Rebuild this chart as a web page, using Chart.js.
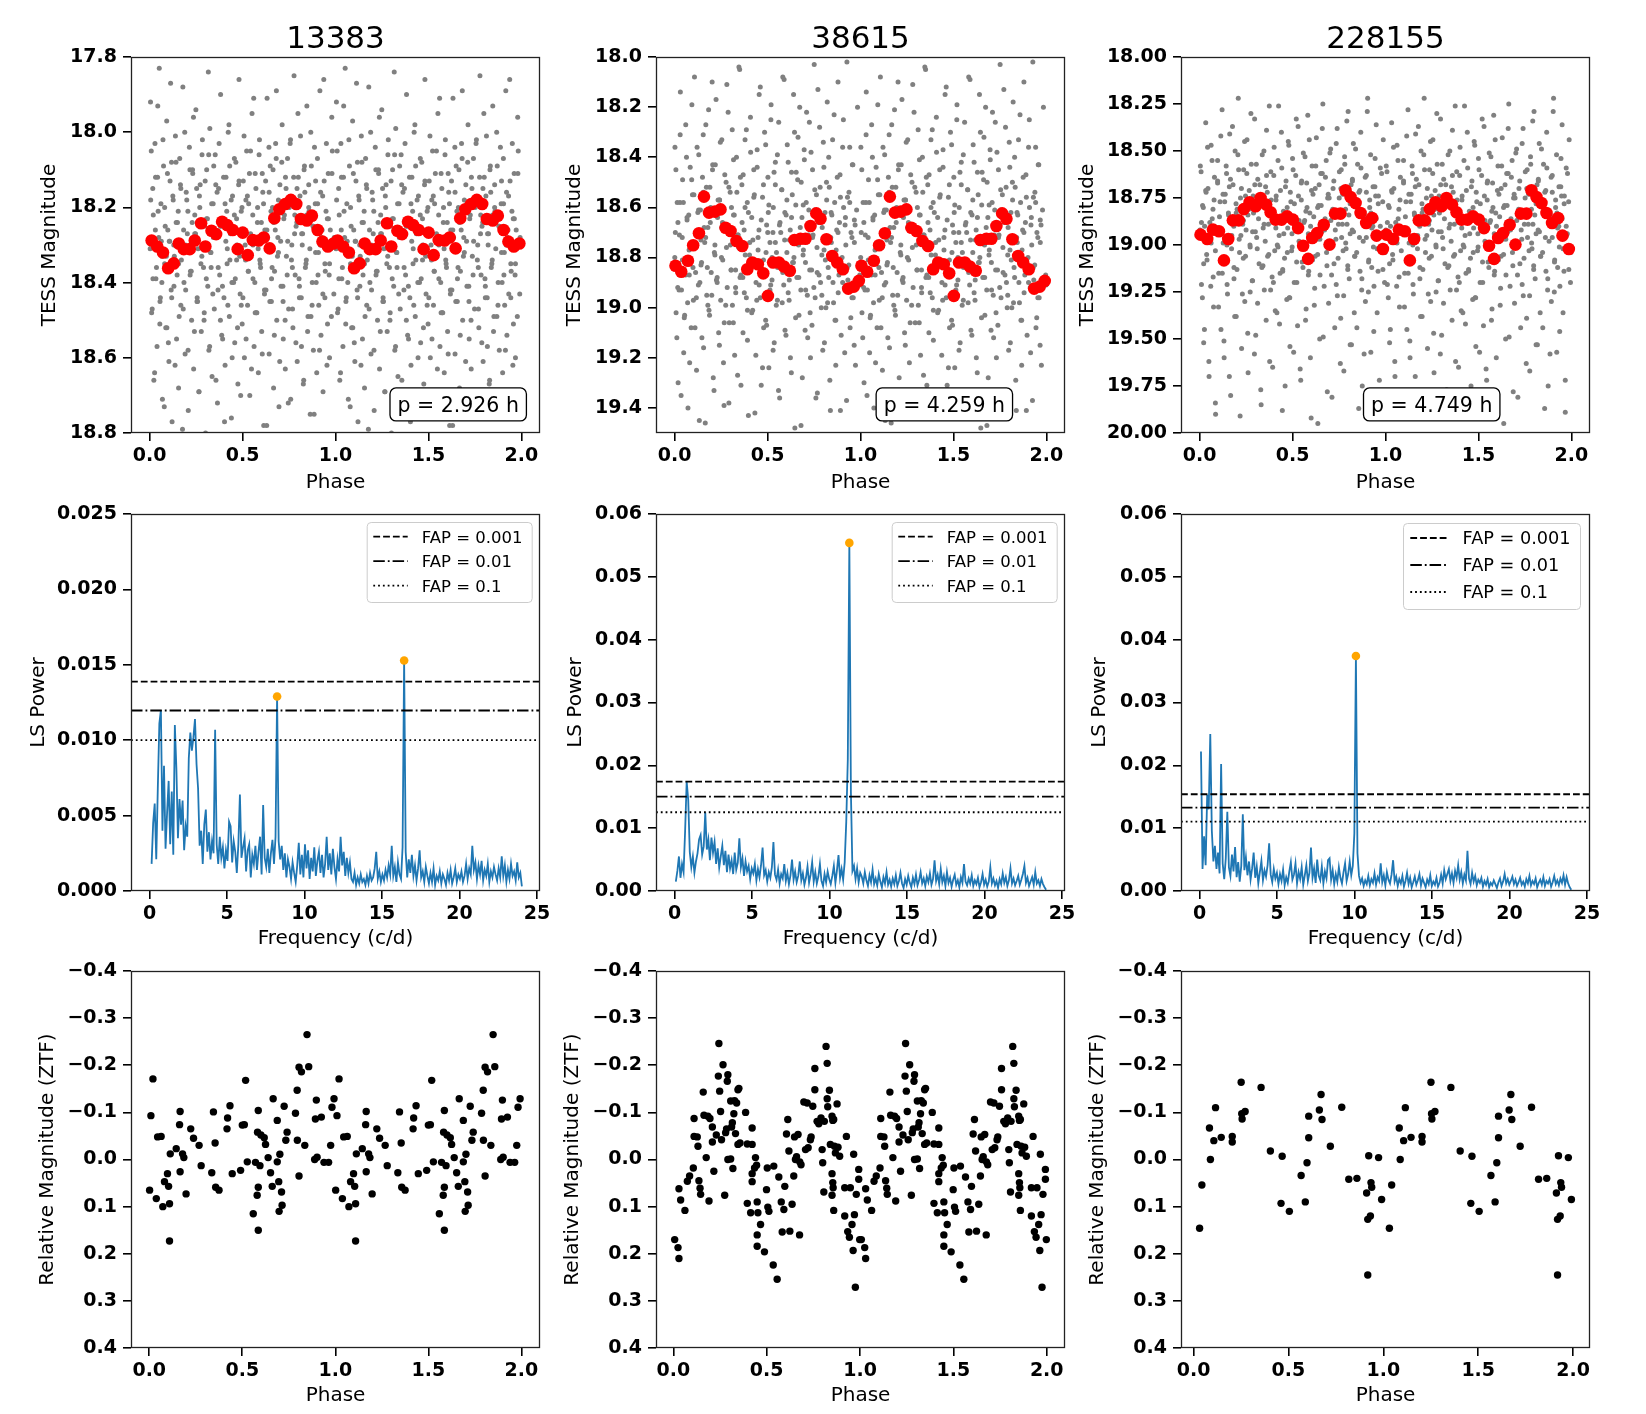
<!DOCTYPE html>
<html>
<head>
<meta charset="utf-8">
<script src="https://cdn.jsdelivr.net/npm/chart.js@4.4.1/dist/chart.umd.min.js"></script>
<style>
  body { margin: 0; background: #fff; }
  #page { position: relative; width: 1646px; height: 1414px; background: #fff; }
  #page canvas { position: absolute; }
</style>
</head>
<body>
<div id="page"></div>
<script>
// ---------------- data ----------------
var objectNames = ['13383', '38615', '228155'];
var periodLabels = ['p = 2.926 h', 'p = 4.259 h', 'p = 4.749 h'];

// TESS light curves, folded (phase 0-1, drawn twice)
var greyPhaseA = [
  0.003,0.009,0.014,0.020,0.027,0.032,0.037,0.044,0.049,0.055,
  0.061,0.066,0.072,0.079,0.084,0.090,0.096,0.101,0.108,0.113,
  0.119,0.125,0.130,0.137,0.142,0.148,0.154,0.159,0.166,0.171,
  0.177,0.183,0.189,0.194,0.200,0.207,0.212,0.217,0.224,0.229,
  0.236,0.241,0.247,0.253,0.258,0.265,0.270,0.276,0.282,0.287,
  0.294,0.299,0.305,0.311,0.316,0.323,0.328,0.334,0.340,0.345,
  0.352,0.357,0.363,0.369,0.374,0.381,0.386,0.392,0.398,0.403,
  0.410,0.415,0.421,0.427,0.432,0.439,0.444,0.450,0.456,0.461,
  0.468,0.473,0.479,0.485,0.490,0.497,0.502,0.508,0.514,0.519,
  0.526,0.531,0.537,0.543,0.548,0.555,0.560,0.566,0.572,0.577,
  0.584,0.589,0.595,0.601,0.606,0.613,0.618,0.624,0.630,0.635,
  0.642,0.647,0.653,0.659,0.664,0.671,0.676,0.682,0.688,0.693,
  0.700,0.705,0.711,0.717,0.722,0.729,0.734,0.740,0.746,0.751,
  0.758,0.763,0.769,0.775,0.780,0.787,0.792,0.798,0.804,0.809,
  0.816,0.821,0.827,0.833,0.838,0.845,0.850,0.856,0.862,0.867,
  0.874,0.879,0.885,0.891,0.896,0.903,0.908,0.914,0.920,0.925,
  0.932,0.937,0.943,0.949,0.954,0.961,0.966,0.972,0.978,0.983,
  0.006,0.018,0.031,0.043,0.056,0.068,0.081,0.093,0.106,0.118,
  0.131,0.143,0.156,0.168,0.181,0.193,0.206,0.218,0.231,0.243,
  0.256,0.268,0.281,0.293,0.306,0.318,0.331,0.343,0.356,0.368,
  0.381,0.393,0.406,0.418,0.431,0.443,0.456,0.468,0.481,0.493,
  0.506,0.518,0.531,0.543,0.556,0.568,0.581,0.593,0.606,0.618,
  0.631,0.643,0.656,0.668,0.681,0.693,0.706,0.718,0.731,0.743,
  0.756,0.768,0.781,0.793,0.806,0.818,0.831,0.843,0.856,0.868,
  0.881,0.893,0.906,0.918,0.931,0.943,0.956,0.968,0.981,0.993,
  0.005,0.011,0.017,0.023,0.029,0.034,0.040,0.046,0.052,0.058,
  0.063,0.069,0.075,0.081,0.087,0.092,0.098,0.104,0.110,0.116,
  0.121,0.127,0.133,0.139,0.145,0.150,0.156,0.162,0.168,0.174,
  0.179,0.185,0.191,0.197,0.203,0.208,0.214,0.220,0.226,0.232,
  0.237,0.243,0.249,0.255,0.261,0.266,0.272,0.278,0.284,0.290,
  0.295,0.301,0.307,0.313,0.319,0.324,0.330,0.336,0.342,0.348,
  0.353,0.359,0.365,0.371,0.377,0.382,0.388,0.394,0.400,0.406,
  0.411,0.417,0.423,0.429,0.435,0.440,0.446,0.452,0.458,0.464,
  0.469,0.475,0.481,0.487,0.493,0.498,0.504,0.510,0.516,0.522,
  0.527,0.533,0.539,0.545,0.551,0.556,0.562,0.568,0.574,0.580,
  0.585,0.591,0.597,0.603,0.609,0.614,0.620,0.626,0.632,0.638,
  0.643,0.649,0.655,0.661,0.667,0.672,0.678,0.684,0.690,0.696,
  0.701,0.707,0.713,0.719,0.725,0.730,0.736,0.742,0.748,0.754,
  0.759,0.765,0.771,0.777,0.783,0.788,0.794,0.800,0.806,0.812,
  0.817,0.823,0.829,0.835,0.841,0.846,0.852,0.858,0.864,0.870,
  0.875,0.881,0.887,0.893,0.899,0.904,0.910,0.916,0.922,0.928,
  0.933,0.939,0.945,0.951,0.957,0.962,0.968,0.974,0.980,0.991
];
var greyMagA = [
  18.31,18.05,18.47,18.22,18.64,18.12,18.36,17.93,18.28,18.51,
  18.19,18.40,18.02,18.73,18.25,18.33,18.11,18.56,18.29,17.87,
  18.44,18.17,18.30,18.62,18.08,18.38,18.21,18.49,18.14,18.34,
  18.79,18.26,18.00,18.42,18.18,18.58,18.31,18.10,18.37,18.24,
  17.96,18.53,18.27,18.15,18.45,18.69,18.20,18.35,18.06,18.30,
  18.48,18.13,18.39,18.23,17.84,18.57,18.32,18.19,18.43,18.09,
  18.28,18.66,18.16,18.36,18.03,18.50,18.25,18.41,18.12,18.77,
  18.29,18.21,18.46,17.98,18.34,18.18,18.60,18.26,18.07,18.39,
  18.23,18.52,18.14,18.33,18.70,18.20,18.44,18.01,18.30,18.55,
  18.17,18.37,18.11,18.27,18.63,18.22,17.91,18.40,18.15,18.48,
  18.31,18.06,18.35,18.24,18.59,18.19,18.42,18.13,18.78,18.28,
  18.04,18.45,18.21,18.36,18.10,18.54,18.26,17.89,18.33,18.18,
  18.61,18.29,18.08,18.41,18.23,18.50,18.15,18.38,18.72,18.20,
  18.02,18.34,18.47,18.12,18.27,18.56,18.24,17.95,18.39,18.17,
  18.44,18.30,18.67,18.09,18.36,18.22,18.53,18.14,18.31,18.00,
  18.46,18.25,18.75,18.19,18.40,18.07,18.32,18.58,18.16,18.28,
  18.43,17.86,18.35,18.21,18.62,18.11,18.38,18.26,18.49,18.05,
  18.18,18.39,18.26,18.12,18.45,18.33,18.20,18.52,18.29,18.08,
  18.41,18.24,18.35,18.15,18.47,18.30,18.21,18.38,18.10,18.27,
  18.44,18.17,18.33,18.50,18.23,18.06,18.36,18.28,18.14,18.42,
  18.25,18.55,18.19,18.31,18.09,18.40,18.22,18.34,18.13,18.46,
  18.27,18.18,18.37,18.05,18.30,18.48,18.20,18.34,18.11,18.43,
  18.26,18.16,18.39,18.24,18.07,18.32,18.19,18.45,18.12,18.29,
  18.03,18.36,18.22,18.15,18.41,18.27,18.10,18.34,18.20,18.49,
  18.25,18.13,18.38,18.30,18.17,18.44,18.23,18.35,18.11,18.28,
  17.92,18.48,18.15,18.66,18.03,18.39,18.57,18.21,17.83,18.44,
  18.29,18.71,18.09,18.35,18.52,17.97,18.26,18.61,18.13,18.42,
  18.77,18.18,18.33,18.01,18.55,18.24,18.68,18.07,18.46,18.30,
  17.88,18.40,18.59,18.16,18.27,18.74,18.04,18.37,18.50,18.11,
  18.63,18.22,17.94,18.45,18.31,18.69,18.14,18.53,18.02,18.36,
  18.25,18.80,18.10,18.41,18.58,17.99,18.32,18.65,18.19,18.47,
  18.06,18.28,18.72,18.15,18.38,17.90,18.54,18.23,18.44,18.62,
  18.12,18.35,18.00,18.49,18.27,18.76,18.17,18.40,18.56,18.08,
  18.30,18.67,17.86,18.43,18.21,18.51,18.13,18.60,18.34,18.05,
  18.46,18.19,18.70,18.29,17.95,18.39,18.57,18.11,18.48,18.24,
  18.64,18.02,18.36,18.53,18.16,18.78,18.26,18.42,17.91,18.31,
  18.59,18.09,18.45,18.20,18.68,18.37,18.03,18.50,18.28,18.73,
  18.14,18.41,17.98,18.55,18.22,18.63,18.33,18.07,18.47,18.18,
  18.71,18.30,18.52,17.85,18.38,18.25,18.61,18.12,18.44,18.01,
  18.57,18.27,18.66,18.16,18.35,17.93,18.49,18.21,18.75,18.09,
  18.40,18.58,18.04,18.32,18.64,18.19,18.46,17.89,18.54,18.26,
  18.69,18.13,18.37,18.03,18.51,18.23,18.60,18.31,17.96,18.43
];
var greyPhaseB = [
  0.001,0.007,0.012,0.018,0.024,0.030,0.035,0.041,0.047,0.052,
  0.059,0.064,0.070,0.076,0.081,0.087,0.093,0.099,0.104,0.110,
  0.116,0.121,0.128,0.133,0.139,0.145,0.150,0.156,0.162,0.168,
  0.173,0.179,0.185,0.190,0.197,0.202,0.208,0.214,0.219,0.225,
  0.231,0.237,0.242,0.248,0.254,0.259,0.266,0.271,0.277,0.283,
  0.288,0.294,0.300,0.306,0.311,0.317,0.323,0.328,0.335,0.340,
  0.346,0.352,0.357,0.363,0.369,0.375,0.380,0.386,0.392,0.397,
  0.404,0.409,0.415,0.421,0.426,0.432,0.438,0.444,0.449,0.455,
  0.461,0.466,0.473,0.478,0.484,0.490,0.495,0.501,0.507,0.513,
  0.518,0.524,0.530,0.535,0.542,0.547,0.553,0.559,0.564,0.570,
  0.576,0.582,0.587,0.593,0.599,0.604,0.611,0.616,0.622,0.628,
  0.633,0.639,0.645,0.651,0.656,0.662,0.668,0.673,0.680,0.685,
  0.691,0.697,0.702,0.708,0.714,0.720,0.725,0.731,0.737,0.742,
  0.749,0.754,0.760,0.766,0.771,0.777,0.783,0.789,0.794,0.800,
  0.806,0.811,0.818,0.823,0.829,0.835,0.840,0.846,0.852,0.858,
  0.863,0.869,0.875,0.880,0.887,0.892,0.898,0.904,0.909,0.915,
  0.921,0.927,0.932,0.938,0.944,0.949,0.956,0.961,0.967,0.973,
  0.004,0.017,0.029,0.042,0.054,0.067,0.079,0.092,0.104,0.117,
  0.129,0.142,0.154,0.167,0.179,0.192,0.204,0.217,0.229,0.242,
  0.254,0.267,0.279,0.292,0.304,0.317,0.329,0.342,0.354,0.367,
  0.379,0.392,0.404,0.417,0.429,0.442,0.454,0.467,0.479,0.492,
  0.504,0.517,0.529,0.542,0.554,0.567,0.579,0.592,0.604,0.617,
  0.629,0.642,0.654,0.667,0.679,0.692,0.704,0.717,0.729,0.742,
  0.754,0.767,0.779,0.792,0.804,0.817,0.829,0.842,0.854,0.867,
  0.879,0.892,0.904,0.917,0.929,0.942,0.954,0.967,0.979,0.996,
  0.002,0.008,0.014,0.019,0.026,0.031,0.037,0.043,0.049,0.054,
  0.060,0.067,0.072,0.078,0.084,0.089,0.096,0.101,0.107,0.113,
  0.118,0.125,0.130,0.136,0.142,0.147,0.154,0.159,0.165,0.171,
  0.176,0.183,0.188,0.194,0.200,0.205,0.212,0.217,0.223,0.229,
  0.234,0.241,0.246,0.252,0.258,0.263,0.270,0.275,0.281,0.287,
  0.292,0.299,0.304,0.310,0.316,0.321,0.328,0.333,0.339,0.345,
  0.350,0.357,0.362,0.368,0.374,0.379,0.386,0.391,0.397,0.403,
  0.408,0.415,0.420,0.426,0.432,0.437,0.444,0.449,0.455,0.461,
  0.466,0.473,0.478,0.484,0.490,0.495,0.502,0.507,0.513,0.519,
  0.524,0.531,0.536,0.542,0.548,0.553,0.560,0.565,0.571,0.577,
  0.582,0.589,0.594,0.600,0.606,0.611,0.618,0.623,0.629,0.635,
  0.640,0.647,0.652,0.658,0.664,0.669,0.676,0.681,0.687,0.693,
  0.698,0.705,0.710,0.716,0.722,0.727,0.734,0.739,0.745,0.751,
  0.756,0.763,0.768,0.774,0.780,0.785,0.792,0.797,0.803,0.809,
  0.814,0.821,0.826,0.832,0.838,0.843,0.850,0.855,0.861,0.867,
  0.872,0.879,0.884,0.890,0.896,0.901,0.908,0.913,0.919,0.925,
  0.930,0.937,0.942,0.948,0.954,0.959,0.966,0.971,0.984,0.998
];
var greyMagB = [
  18.80,18.45,19.12,18.66,18.93,18.31,19.35,18.72,18.58,19.04,
  18.87,18.40,18.98,18.63,19.22,18.76,18.19,18.84,18.55,19.08,
  18.70,18.36,18.91,19.45,18.61,18.82,18.48,19.16,18.74,18.27,
  18.95,18.68,19.01,18.52,18.86,18.10,19.28,18.78,18.43,18.89,
  18.64,19.10,18.57,18.97,18.33,18.81,19.39,18.69,18.50,18.92,
  18.22,19.06,18.75,18.60,18.99,18.41,19.19,18.85,18.54,18.71,
  18.04,18.88,19.31,18.66,18.47,18.94,18.79,18.29,19.13,18.62,
  18.83,18.38,19.02,18.73,18.56,19.42,18.90,18.44,18.77,18.15,
  18.96,18.65,19.24,18.51,18.86,18.35,19.07,18.70,18.59,18.93,
  18.25,18.80,19.17,18.46,18.74,18.99,18.39,19.33,18.67,18.84,
  18.53,18.08,18.91,18.62,19.11,18.78,18.42,18.97,18.69,19.26,
  18.55,18.82,18.30,19.04,18.73,18.49,18.88,18.20,19.47,18.64,
  18.79,18.37,19.09,18.58,18.95,18.71,18.26,19.20,18.85,18.45,
  18.92,18.61,19.36,18.76,18.13,18.87,18.52,19.00,18.68,18.34,
  19.14,18.81,18.57,18.98,18.40,19.29,18.72,18.63,18.90,18.23,
  19.05,18.77,18.48,18.94,18.66,19.41,18.83,18.36,18.60,19.18,
  18.75,18.02,18.89,18.54,19.08,18.70,18.43,18.96,18.65,19.23,
  18.70,18.92,18.58,18.81,19.03,18.64,18.87,18.49,18.75,18.96,
  18.61,18.83,18.54,18.72,18.99,18.66,18.45,18.79,18.90,18.57,
  18.68,19.06,18.76,18.52,18.85,18.63,18.94,18.71,18.48,18.88,
  18.60,19.01,18.74,18.83,18.55,18.97,18.69,18.86,19.08,18.78,
  18.62,18.91,18.70,18.51,18.84,18.66,18.98,18.73,18.57,18.89,
  18.64,18.80,18.46,18.75,18.93,18.59,18.82,18.68,19.02,18.72,
  18.53,18.86,18.65,18.95,18.77,18.50,18.88,18.62,18.79,19.05,
  18.70,18.56,18.90,18.67,18.84,18.58,18.96,18.74,18.61,18.87,
  18.36,19.02,18.58,19.30,18.71,18.14,18.93,18.49,19.18,18.82,
  18.27,18.65,19.40,18.77,18.44,19.08,18.55,18.97,18.08,18.86,
  19.25,18.62,18.39,18.90,18.73,19.12,18.31,18.68,19.46,18.52,
  18.84,18.21,19.03,18.60,18.95,18.43,19.33,18.75,18.17,18.88,
  18.57,19.15,18.34,18.80,18.66,19.22,18.47,18.99,18.11,18.70,
  19.38,18.54,18.85,18.29,19.06,18.63,18.92,18.40,19.27,18.76,
  18.05,18.87,18.51,19.10,18.69,18.33,18.96,18.58,19.43,18.79,
  18.24,18.64,19.01,18.45,18.83,19.19,18.37,18.72,18.91,18.12,
  19.31,18.56,18.81,18.30,19.05,18.67,18.48,19.24,18.74,18.19,
  18.89,18.60,19.14,18.42,18.78,18.97,18.26,19.36,18.70,18.53,
  18.86,18.09,19.09,18.63,18.35,18.94,18.73,19.20,18.46,18.82,
  18.15,19.48,18.59,18.88,18.32,19.03,18.68,18.50,19.28,18.77,
  18.41,18.93,18.22,19.12,18.61,18.85,18.38,19.07,18.71,18.03,
  18.96,18.55,19.34,18.66,18.28,18.90,18.79,19.17,18.44,18.62,
  19.00,18.18,18.84,18.52,19.41,18.74,18.33,18.98,18.58,19.23,
  18.69,18.10,18.87,18.47,19.11,18.80,18.25,18.92,18.64,19.37,
  18.56,18.83,18.36,19.04,18.72,18.43,19.15,18.67,18.20,18.91
];
var greyPhaseC = [
  0.002,0.008,0.015,0.020,0.026,0.033,0.038,0.043,0.050,0.055,
  0.062,0.067,0.073,0.078,0.085,0.090,0.097,0.102,0.107,0.114,
  0.119,0.126,0.131,0.137,0.143,0.148,0.155,0.160,0.166,0.172,
  0.177,0.184,0.189,0.196,0.201,0.206,0.213,0.218,0.225,0.230,
  0.236,0.242,0.247,0.254,0.259,0.265,0.271,0.276,0.283,0.288,
  0.295,0.300,0.305,0.312,0.317,0.324,0.329,0.335,0.341,0.346,
  0.353,0.358,0.364,0.370,0.375,0.382,0.387,0.393,0.399,0.404,
  0.411,0.416,0.422,0.428,0.433,0.440,0.445,0.451,0.457,0.462,
  0.469,0.474,0.480,0.486,0.491,0.498,0.503,0.509,0.515,0.520,
  0.527,0.532,0.538,0.544,0.549,0.556,0.561,0.567,0.573,0.578,
  0.585,0.590,0.596,0.602,0.607,0.614,0.619,0.625,0.631,0.636,
  0.643,0.648,0.654,0.660,0.665,0.672,0.677,0.683,0.689,0.694,
  0.701,0.706,0.712,0.718,0.723,0.730,0.735,0.741,0.747,0.752,
  0.759,0.764,0.770,0.776,0.781,0.788,0.793,0.799,0.805,0.810,
  0.817,0.822,0.828,0.834,0.839,0.846,0.851,0.857,0.863,0.868,
  0.875,0.880,0.886,0.892,0.897,0.904,0.909,0.915,0.921,0.926,
  0.933,0.938,0.944,0.950,0.955,0.962,0.967,0.973,0.979,0.986,
  0.010,0.022,0.035,0.047,0.060,0.072,0.085,0.097,0.110,0.122,
  0.135,0.147,0.160,0.172,0.185,0.197,0.210,0.222,0.235,0.247,
  0.260,0.272,0.285,0.297,0.310,0.322,0.335,0.347,0.360,0.372,
  0.385,0.397,0.410,0.422,0.435,0.447,0.460,0.472,0.485,0.497,
  0.510,0.522,0.535,0.547,0.560,0.572,0.585,0.597,0.610,0.622,
  0.635,0.647,0.660,0.672,0.685,0.697,0.710,0.722,0.735,0.747,
  0.760,0.772,0.785,0.797,0.810,0.822,0.835,0.847,0.860,0.872,
  0.885,0.897,0.910,0.922,0.935,0.947,0.960,0.972,0.985,0.997,
  0.004,0.010,0.016,0.022,0.027,0.033,0.040,0.045,0.051,0.057,
  0.062,0.068,0.075,0.080,0.086,0.092,0.097,0.103,0.110,0.115,
  0.121,0.127,0.132,0.138,0.145,0.150,0.156,0.162,0.167,0.173,
  0.180,0.185,0.191,0.197,0.202,0.208,0.215,0.220,0.226,0.232,
  0.237,0.243,0.250,0.255,0.261,0.267,0.272,0.278,0.285,0.290,
  0.296,0.302,0.307,0.313,0.320,0.325,0.331,0.337,0.342,0.348,
  0.355,0.360,0.366,0.372,0.377,0.383,0.390,0.395,0.401,0.407,
  0.412,0.418,0.425,0.430,0.436,0.442,0.447,0.453,0.460,0.465,
  0.471,0.477,0.482,0.488,0.495,0.500,0.506,0.512,0.517,0.523,
  0.530,0.535,0.541,0.547,0.552,0.558,0.565,0.570,0.576,0.582,
  0.587,0.593,0.600,0.605,0.611,0.617,0.622,0.628,0.635,0.640,
  0.646,0.652,0.657,0.663,0.670,0.675,0.681,0.687,0.692,0.698,
  0.705,0.710,0.716,0.722,0.727,0.733,0.740,0.745,0.751,0.757,
  0.762,0.768,0.775,0.780,0.786,0.792,0.797,0.803,0.810,0.815,
  0.821,0.827,0.832,0.838,0.845,0.850,0.856,0.862,0.867,0.873,
  0.880,0.885,0.891,0.897,0.902,0.908,0.915,0.920,0.926,0.932,
  0.937,0.943,0.950,0.955,0.961,0.967,0.972,0.978,0.988,0.995
];
var greyMagC = [
  18.92,18.61,19.28,18.80,19.45,18.71,19.05,18.48,19.62,18.88,
  18.99,18.55,19.17,18.76,19.84,18.94,18.67,19.33,18.85,18.42,
  19.09,18.73,19.51,18.96,18.58,19.21,18.83,19.70,18.65,19.02,
  18.37,18.90,19.38,18.78,19.13,18.52,18.97,19.91,18.70,19.26,
  18.87,18.45,19.06,18.62,19.47,18.81,19.00,18.30,19.19,18.74,
  19.58,18.93,18.57,19.31,18.86,18.68,19.77,18.79,19.11,18.50,
  18.98,19.40,18.72,18.89,18.26,19.24,18.84,19.65,18.63,19.03,
  18.76,19.36,18.55,18.95,19.15,18.40,19.88,18.82,19.07,18.69,
  19.29,18.91,18.47,19.54,18.77,19.01,18.60,19.20,18.86,18.33,
  19.43,18.74,18.99,19.72,18.66,19.12,18.88,18.53,19.34,18.80,
  18.94,18.44,19.60,18.71,19.08,18.85,19.23,18.58,18.97,19.95,
  18.68,19.16,18.79,18.38,19.49,18.90,18.64,19.04,18.75,19.31,
  18.51,18.87,19.81,18.70,19.10,18.92,18.46,19.27,18.83,18.61,
  19.39,18.96,18.73,19.67,18.57,19.02,18.89,18.29,19.18,18.78,
  19.53,18.66,18.93,19.06,18.49,19.44,18.81,18.72,19.14,18.59,
  19.75,18.98,18.84,19.30,18.63,18.22,19.09,18.76,19.57,18.91,
  18.69,19.22,18.54,18.86,19.36,18.74,19.89,18.95,18.62,19.13,
  18.88,19.10,18.72,18.97,19.22,18.81,19.03,18.66,18.92,19.15,
  18.77,19.00,18.69,18.86,19.18,18.83,18.60,18.95,19.07,18.74,
  18.84,19.25,18.93,18.68,19.02,18.79,19.12,18.89,18.63,19.05,
  18.76,19.20,18.91,19.01,18.71,19.14,18.85,19.04,19.28,18.94,
  18.78,19.09,18.87,18.67,19.01,18.82,19.16,18.90,18.73,19.06,
  18.80,18.97,18.62,18.92,19.11,18.75,18.99,18.84,19.21,18.89,
  18.70,19.03,18.81,19.13,18.94,18.65,19.06,18.78,18.96,19.24,
  18.86,18.72,19.08,18.83,19.01,18.74,19.14,18.90,18.77,19.04,
  18.58,19.21,18.79,19.52,18.90,18.35,19.08,18.70,19.70,18.97,
  18.47,18.86,19.33,18.64,19.90,18.93,18.55,19.15,18.77,19.45,
  18.28,18.99,19.60,18.73,18.62,19.26,18.84,18.41,19.80,18.95,
  18.68,19.12,18.50,19.38,18.81,18.22,19.04,18.75,19.55,18.89,
  18.60,19.30,18.92,18.44,19.68,18.71,19.01,18.57,19.19,18.83,
  18.33,19.48,18.96,18.65,19.10,18.78,19.85,18.52,18.91,19.24,
  18.69,18.39,19.06,18.82,19.62,18.61,19.17,18.88,18.48,19.35,
  18.74,19.00,18.26,19.42,18.85,18.59,19.13,18.94,19.75,18.66,
  18.80,18.45,19.28,18.72,19.03,18.54,19.57,18.90,18.63,19.20,
  18.37,18.98,19.66,18.76,19.09,18.51,18.87,19.40,18.67,18.31,
  19.14,18.83,19.92,18.58,18.95,19.32,18.70,18.43,19.05,18.79,
  19.50,18.62,18.93,18.25,19.22,18.86,18.55,19.78,18.73,19.01,
  18.49,19.16,18.81,18.66,19.44,18.97,18.38,19.07,18.75,19.63,
  18.60,18.89,19.27,18.53,18.99,18.34,19.11,18.84,19.53,18.68,
  18.92,18.46,19.36,18.77,19.04,18.57,19.87,18.71,18.40,19.18,
  18.82,19.58,18.64,18.96,18.29,19.25,18.80,18.52,19.12,18.90,
  19.46,18.69,18.36,19.02,18.78,19.72,18.59,18.94,18.44,19.20
];

// binned light curves (red)
var binPhaseA = [0.011,0.041,0.072,0.100,0.130,0.157,0.184,0.216,0.243,0.277,0.300,0.333,0.358,0.390,0.417,0.447,0.474,0.501,0.528,0.555,0.587,0.614,0.646,0.671,0.698,0.730,0.760,0.789,0.814,0.846,0.873,0.904,0.930,0.959,0.989];
var binMagA = [18.288,18.304,18.320,18.362,18.349,18.296,18.311,18.311,18.288,18.242,18.304,18.262,18.271,18.238,18.247,18.260,18.311,18.267,18.327,18.287,18.288,18.280,18.309,18.229,18.205,18.191,18.180,18.191,18.231,18.235,18.222,18.260,18.291,18.304,18.296];
var binPhaseB = [0.005,0.036,0.072,0.100,0.131,0.158,0.185,0.217,0.247,0.274,0.301,0.333,0.364,0.391,0.418,0.448,0.477,0.502,0.530,0.561,0.588,0.620,0.645,0.677,0.704,0.731,0.762,0.785,0.817,0.848,0.875,0.905,0.934,0.964,0.991];
var binMagB = [18.833,18.857,18.813,18.751,18.703,18.557,18.621,18.617,18.608,18.681,18.694,18.734,18.754,18.847,18.820,18.827,18.863,18.953,18.820,18.820,18.836,18.853,18.730,18.725,18.725,18.674,18.624,18.645,18.727,18.794,18.820,18.847,18.924,18.916,18.893];
var binPhaseC = [0.005,0.041,0.072,0.104,0.131,0.154,0.179,0.211,0.238,0.269,0.301,0.328,0.358,0.382,0.409,0.441,0.471,0.502,0.530,0.557,0.584,0.606,0.633,0.668,0.699,0.728,0.758,0.785,0.812,0.839,0.866,0.896,0.928,0.952,0.986];
var binMagC = [18.945,18.968,18.918,18.927,19.082,18.968,18.869,18.869,18.809,18.773,18.794,18.750,18.785,18.826,18.865,18.865,18.848,18.865,18.910,19.004,19.074,18.963,18.936,18.892,18.998,18.833,18.833,18.709,18.745,18.777,18.830,18.883,18.856,18.950,19.021];

// Lomb-Scargle periodograms, frequency grid start (c/d), step 0.1 c/d
var freqStart = [0.13, 0.08, 0.09];
var freqStep = 0.1;
var powerA = [
  0.0018,0.0045,0.0058,0.0021,0.0068,0.0111,0.0120,0.0040,0.0083,0.0028,
  0.0052,0.0073,0.0031,0.0066,0.0024,0.0110,0.0081,0.0035,0.0061,0.0044,
  0.0060,0.0027,0.0043,0.0036,0.0088,0.0105,0.0093,0.0102,0.0114,0.0084,
  0.0068,0.0030,0.0040,0.0018,0.0044,0.0054,0.0026,0.0039,0.0021,0.0033,
  0.0025,0.0107,0.0031,0.0018,0.0036,0.0022,0.0029,0.0015,0.0027,0.0020,
  0.0046,0.0043,0.0019,0.0033,0.0026,0.0012,0.0031,0.0064,0.0022,0.0029,
  0.0035,0.0013,0.0027,0.0031,0.0009,0.0024,0.0018,0.0030,0.0014,0.0026,
  0.0036,0.0011,0.0057,0.0022,0.0016,0.0028,0.0012,0.0025,0.0034,0.0018,
  0.0036,0.0129,0.0033,0.0021,0.0030,0.0014,0.0025,0.0009,0.0021,0.0016,
  0.0008,0.0019,0.0012,0.0006,0.0017,0.0032,0.0011,0.0024,0.0009,0.0031,
  0.0015,0.0027,0.0008,0.0022,0.0013,0.0029,0.0010,0.0020,0.0026,0.0012,
  0.0024,0.0009,0.0018,0.0036,0.0014,0.0025,0.0011,0.0028,0.0016,0.0008,
  0.0021,0.0013,0.0036,0.0017,0.0026,0.0010,0.0022,0.0012,0.0019,0.0008,
  0.0006,0.0012,0.0004,0.0009,0.0005,0.0011,0.0006,0.0008,0.0004,0.0010,
  0.0005,0.0012,0.0007,0.0009,0.0015,0.0026,0.0008,0.0013,0.0006,0.0011,
  0.0007,0.0014,0.0009,0.0017,0.0011,0.0030,0.0010,0.0016,0.0006,0.0019,
  0.0011,0.0008,0.0029,0.0153,0.0026,0.0009,0.0021,0.0012,0.0024,0.0010,
  0.0017,0.0007,0.0015,0.0027,0.0009,0.0013,0.0006,0.0016,0.0010,0.0005,
  0.0012,0.0006,0.0015,0.0004,0.0010,0.0007,0.0013,0.0005,0.0011,0.0008,
  0.0004,0.0012,0.0007,0.0014,0.0005,0.0009,0.0015,0.0006,0.0011,0.0008,
  0.0013,0.0006,0.0010,0.0018,0.0008,0.0015,0.0011,0.0030,0.0014,0.0019,
  0.0008,0.0017,0.0011,0.0020,0.0007,0.0014,0.0010,0.0018,0.0006,0.0013,
  0.0009,0.0016,0.0011,0.0007,0.0015,0.0009,0.0023,0.0010,0.0017,0.0006,
  0.0014,0.0008,0.0018,0.0010,0.0013,0.0007,0.0019,0.0009,0.0012,0.0003
];
var powerB = [
  0.0015,0.0032,0.0055,0.0021,0.0043,0.0030,0.0096,0.0174,0.0145,0.0062,
  0.0038,0.0055,0.0029,0.0047,0.0060,0.0082,0.0089,0.0058,0.0071,0.0125,
  0.0066,0.0082,0.0049,0.0085,0.0061,0.0078,0.0043,0.0068,0.0037,0.0055,
  0.0072,0.0041,0.0064,0.0030,0.0058,0.0036,0.0049,0.0027,0.0061,0.0034,
  0.0045,0.0084,0.0038,0.0052,0.0024,0.0047,0.0031,0.0040,0.0019,0.0036,
  0.0028,0.0043,0.0017,0.0035,0.0022,0.0041,0.0069,0.0025,0.0033,0.0015,
  0.0030,0.0021,0.0038,0.0078,0.0026,0.0018,0.0034,0.0012,0.0027,0.0020,
  0.0043,0.0016,0.0029,0.0011,0.0025,0.0050,0.0018,0.0031,0.0014,0.0024,
  0.0047,0.0017,0.0028,0.0010,0.0021,0.0039,0.0013,0.0026,0.0046,0.0015,
  0.0030,0.0012,0.0023,0.0043,0.0016,0.0008,0.0027,0.0014,0.0031,0.0019,
  0.0011,0.0024,0.0040,0.0013,0.0033,0.0057,0.0021,0.0035,0.0018,0.0046,
  0.0110,0.0209,0.0554,0.0158,0.0032,0.0040,0.0019,0.0036,0.0014,0.0029,
  0.0023,0.0012,0.0030,0.0017,0.0008,0.0025,0.0014,0.0034,0.0011,0.0020,
  0.0009,0.0027,0.0015,0.0006,0.0022,0.0012,0.0030,0.0010,0.0018,0.0007,
  0.0020,0.0011,0.0025,0.0008,0.0016,0.0029,0.0012,0.0005,0.0019,0.0010,
  0.0024,0.0013,0.0006,0.0021,0.0011,0.0026,0.0009,0.0017,0.0030,0.0012,
  0.0020,0.0008,0.0023,0.0014,0.0028,0.0010,0.0019,0.0049,0.0016,0.0026,
  0.0011,0.0035,0.0014,0.0024,0.0008,0.0030,0.0013,0.0021,0.0007,0.0018,
  0.0026,0.0010,0.0017,0.0006,0.0022,0.0013,0.0043,0.0015,0.0009,0.0020,
  0.0012,0.0025,0.0008,0.0017,0.0011,0.0021,0.0006,0.0014,0.0027,0.0010,
  0.0018,0.0007,0.0015,0.0038,0.0012,0.0020,0.0009,0.0016,0.0005,0.0019,
  0.0011,0.0028,0.0013,0.0022,0.0008,0.0017,0.0036,0.0012,0.0020,0.0009,
  0.0016,0.0024,0.0010,0.0018,0.0027,0.0040,0.0013,0.0021,0.0008,0.0015,
  0.0022,0.0010,0.0030,0.0012,0.0017,0.0008,0.0019,0.0011,0.0006,0.0002
];
var powerC = [
  0.0222,0.0035,0.0087,0.0041,0.0153,0.0130,0.0250,0.0096,0.0047,0.0072,
  0.0035,0.0061,0.0028,0.0202,0.0044,0.0019,0.0052,0.0126,0.0038,0.0024,
  0.0058,0.0031,0.0070,0.0022,0.0046,0.0015,0.0040,0.0122,0.0033,0.0054,
  0.0025,0.0047,0.0018,0.0036,0.0061,0.0021,0.0039,0.0012,0.0030,0.0048,
  0.0017,0.0033,0.0023,0.0041,0.0076,0.0026,0.0014,0.0035,0.0020,0.0029,
  0.0011,0.0027,0.0016,0.0034,0.0009,0.0022,0.0013,0.0031,0.0046,0.0018,
  0.0026,0.0044,0.0012,0.0030,0.0019,0.0038,0.0010,0.0025,0.0041,0.0016,
  0.0029,0.0069,0.0021,0.0036,0.0013,0.0050,0.0024,0.0017,0.0039,0.0012,
  0.0031,0.0020,0.0049,0.0052,0.0018,0.0033,0.0011,0.0027,0.0015,0.0038,
  0.0021,0.0012,0.0030,0.0044,0.0016,0.0027,0.0047,0.0025,0.0040,0.0092,
  0.0374,0.0060,0.0024,0.0013,0.0020,0.0008,0.0017,0.0011,0.0024,0.0009,
  0.0019,0.0013,0.0028,0.0010,0.0022,0.0016,0.0044,0.0014,0.0025,0.0009,
  0.0030,0.0018,0.0012,0.0026,0.0049,0.0015,0.0023,0.0008,0.0019,0.0012,
  0.0024,0.0007,0.0016,0.0029,0.0011,0.0021,0.0006,0.0014,0.0023,0.0010,
  0.0017,0.0027,0.0009,0.0020,0.0013,0.0006,0.0018,0.0011,0.0025,0.0008,
  0.0015,0.0010,0.0021,0.0007,0.0013,0.0026,0.0012,0.0033,0.0019,0.0027,
  0.0035,0.0016,0.0028,0.0013,0.0032,0.0021,0.0041,0.0018,0.0030,0.0012,
  0.0026,0.0017,0.0064,0.0020,0.0011,0.0029,0.0015,0.0024,0.0009,0.0018,
  0.0013,0.0021,0.0007,0.0016,0.0010,0.0019,0.0006,0.0013,0.0009,0.0017,
  0.0011,0.0005,0.0014,0.0020,0.0008,0.0015,0.0027,0.0012,0.0019,0.0010,
  0.0016,0.0023,0.0011,0.0018,0.0008,0.0014,0.0021,0.0010,0.0015,0.0007,
  0.0019,0.0012,0.0024,0.0009,0.0016,0.0011,0.0020,0.0006,0.0013,0.0018,
  0.0010,0.0022,0.0008,0.0016,0.0012,0.0019,0.0007,0.0014,0.0024,0.0011,
  0.0017,0.0009,0.0020,0.0013,0.0025,0.0010,0.0022,0.0012,0.0006,0.0002
];
var peakFreqA = [8.23, 16.43], peakPowerA = [0.0129, 0.01529];
var peakFreqB = [11.28], peakPowerB = [0.0554];
var peakFreqC = [10.09], peakPowerC = [0.0374];
var fapLabels = ['FAP = 0.001', 'FAP = 0.01', 'FAP = 0.1'];
var fapA = [0.01389, 0.01197, 0.0100];
var fapB = [0.01742, 0.01503, 0.01253];
var fapC = [0.0154, 0.01327, 0.01104];

// ZTF folded light curves
var ztfPhaseA = [
  0.002,0.009,0.020,0.038,0.045,0.064,0.073,0.082,0.098,0.104,
  0.109,0.109,0.113,0.145,0.166,0.163,0.166,0.179,0.186,0.198,
  0.223,0.238,0.268,0.279,0.336,0.345,0.354,0.357,0.375,0.418,
  0.421,0.434,0.446,0.491,0.500,0.511,0.518,0.527,0.559,0.571,
  0.580,0.582,0.586,0.586,0.586,0.595,0.600,0.618,0.625,0.639,
  0.652,0.661,0.666,0.688,0.688,0.696,0.702,0.698,0.711,0.714,
  0.725,0.734,0.741,0.786,0.795,0.805,0.818,0.796,0.805,0.836,
  0.848,0.857,0.889,0.898,0.902,0.893,0.925,0.939,0.964,0.975,
  0.982,0.993
];
var ztfMagA = [
  0.065,-0.093,-0.171,0.083,-0.048,-0.049,0.100,0.047,0.030,0.057,
  0.094,0.173,-0.012,-0.023,-0.102,-0.074,0.026,-0.012,-0.004,0.073,
  -0.065,-0.045,-0.030,0.013,0.028,-0.101,-0.035,0.059,0.065,-0.065,
  -0.088,-0.114,0.030,0.023,-0.073,-0.074,-0.168,0.005,0.115,0.006,
  0.076,-0.058,0.150,0.059,-0.104,0.013,-0.052,-0.046,-0.032,-0.004,
  0.028,0.057,-0.129,-0.083,0.005,0.047,-0.011,0.110,0.069,0.097,
  -0.113,-0.041,-0.058,-0.098,-0.147,-0.196,-0.186,-0.041,0.035,-0.030,
  -0.265,-0.197,0.000,-0.126,-0.005,-0.086,-0.090,0.006,0.006,-0.030,
  -0.111,-0.129
];
var ztfPhaseB = [
  0.007,0.025,0.030,0.030,0.039,0.062,0.075,0.087,0.107,0.111,
  0.111,0.128,0.132,0.137,0.143,0.146,0.160,0.164,0.176,0.185,
  0.191,0.196,0.209,0.209,0.217,0.230,0.241,0.244,0.248,0.253,
  0.258,0.266,0.275,0.280,0.285,0.289,0.292,0.292,0.307,0.307,
  0.312,0.316,0.319,0.324,0.328,0.333,0.339,0.346,0.351,0.346,
  0.357,0.387,0.396,0.422,0.422,0.422,0.435,0.440,0.446,0.422,
  0.396,0.414,0.449,0.453,0.467,0.449,0.449,0.488,0.499,0.503,
  0.506,0.512,0.538,0.535,0.556,0.565,0.578,0.583,0.592,0.597,
  0.606,0.613,0.619,0.624,0.636,0.645,0.649,0.654,0.660,0.668,
  0.676,0.677,0.684,0.699,0.708,0.717,0.722,0.734,0.738,0.747,
  0.758,0.758,0.770,0.779,0.791,0.797,0.800,0.806,0.809,0.818,
  0.824,0.824,0.827,0.836,0.841,0.850,0.854,0.859,0.850,0.854,
  0.856,0.850,0.859,0.863,0.868,0.877,0.882,0.891,0.918,0.927,
  0.918,0.934,0.943,0.948,0.957,0.963,0.966,0.970,0.975,0.980,
  0.993,0.993,0.998
];
var ztfMagB = [
  0.170,0.187,0.210,0.062,0.086,0.108,0.046,0.035,0.018,-0.049,
  -0.087,-0.048,-0.028,0.045,0.061,0.074,-0.143,-0.094,-0.004,-0.092,
  0.088,-0.087,-0.069,-0.037,0.025,-0.052,-0.177,-0.246,-0.145,-0.102,
  -0.042,-0.201,0.076,-0.057,-0.065,-0.166,-0.180,0.000,-0.001,-0.124,
  -0.069,-0.078,0.019,-0.097,-0.125,-0.055,-0.120,-0.148,-0.151,-0.032,
  -0.035,-0.100,-0.033,-0.067,-0.032,0.047,0.018,-0.004,0.012,0.030,
  0.093,0.113,0.090,0.113,0.138,0.160,0.184,0.196,0.064,0.018,
  0.101,0.110,0.014,0.224,0.254,0.037,0.090,0.154,0.106,0.057,
  -0.054,-0.085,-0.018,0.152,0.095,0.035,-0.048,0.000,-0.006,-0.053,
  0.160,0.005,0.011,-0.122,-0.021,-0.120,-0.025,-0.042,-0.048,-0.113,
  -0.193,-0.148,-0.081,-0.076,-0.088,-0.021,0.007,0.069,-0.081,-0.240,
  -0.204,-0.129,-0.112,-0.147,-0.032,-0.092,-0.083,-0.085,0.030,0.049,
  0.060,0.076,0.108,-0.028,-0.014,-0.118,-0.026,-0.007,0.060,-0.049,
  0.120,0.153,0.165,0.060,0.138,0.193,-0.011,0.117,0.271,0.074,
  0.021,0.042,0.170
];
var ztfPhaseC = [
  0.032,0.044,0.084,0.089,0.107,0.116,0.146,0.204,0.204,0.251,
  0.254,0.256,0.272,0.356,0.405,0.467,0.461,0.505,0.567,0.589,
  0.598,0.607,0.607,0.663,0.672,0.677,0.721,0.781,0.818,0.861,
  0.912,0.918,0.923,0.932,0.935,0.939,0.918,0.975,0.991
];
var ztfMagC = [
  0.146,0.054,-0.067,0.000,-0.040,-0.110,-0.047,-0.049,-0.037,-0.164,
  -0.097,-0.086,-0.102,-0.153,-0.018,-0.007,0.093,0.110,0.034,0.090,
  0.007,-0.092,-0.046,-0.105,-0.138,-0.085,-0.028,-0.111,0.042,0.040,
  0.071,0.127,-0.008,0.120,0.049,0.059,0.245,-0.004,0.085
];

// tick labels
var phaseTicks = [0, 0.5, 1.0, 1.5, 2.0];
var freqTicks = [0, 5, 10, 15, 20, 25];
var magTicksA = [17.8, 18.0, 18.2, 18.4, 18.6, 18.8];
var magTicksB = [18.0, 18.2, 18.4, 18.6, 18.8, 19.0, 19.2, 19.4];
var magTicksC = [18.0, 18.25, 18.5, 18.75, 19.0, 19.25, 19.5, 19.75, 20.0];
var powerTicksA = [0, 0.005, 0.010, 0.015, 0.020, 0.025];
var powerTicksBC = [0, 0.01, 0.02, 0.03, 0.04, 0.05, 0.06];
var relTicks = [-0.4, -0.3, -0.2, -0.1, 0, 0.1, 0.2, 0.3, 0.4];

// ---------------- layout / style ----------------
var FONT = '"DejaVu Sans", sans-serif';
var colLeft = [131, 656, 1181];
var rowTop = [57, 514, 971];
var axesW = 409;
var rowAxesH = [376, 377, 377];
var padLeft = 110, padTop = 50, padRight = 14, padBottom = 70;
var fapDash = [[6.8, 3], [11.5, 3, 1.8, 3], [1.8, 3]];
var fapWidth = 1.8;

Chart.defaults.font.family = FONT;

function addCanvas(row, col) {
  var c = document.createElement('canvas');
  var w = axesW + padLeft + padRight, h = rowAxesH[row] + padTop + padBottom;
  c.width = w; c.height = h;
  c.style.left = (colLeft[col] - padLeft) + 'px';
  c.style.top = (rowTop[row] - padTop) + 'px';
  c.style.width = w + 'px';
  c.style.height = h + 'px';
  document.getElementById('page').appendChild(c);
  return c;
}

function fmt(d) { return function (v) { return Number(v).toFixed(d); }; }
function fmtMinus(d) { return function (v) { return (v < 0 ? '\u2212' : '') + Math.abs(v).toFixed(d); }; }

function makeScale(o) {
  var horiz = o.position === 'bottom';
  return {
    type: 'linear', position: o.position, min: o.min, max: o.max, reverse: !!o.reverse, bounds: 'data',
    grid: { drawOnChartArea: false, drawTicks: true, tickLength: 8, tickWidth: 1.6, tickColor: '#000', color: '#000', lineWidth: 1.6 },
    border: { display: false },
    ticks: { color: '#000', padding: horiz ? 4 : 6, autoSkip: false, maxRotation: 0, minRotation: 0,
             font: { family: FONT, size: 19, weight: 'bold' }, callback: o.format },
    title: { display: true, text: o.title, color: '#000', font: { family: FONT, size: 20, weight: 'normal' },
             padding: horiz ? { top: 0, bottom: o.titlePad } : { top: o.titlePad, bottom: 0 } },
    afterBuildTicks: function (s) { s.ticks = o.ticks.map(function (v) { return { value: v }; }); },
    afterFit: function (s) {
      if (horiz) s.height = padBottom; else s.width = padLeft;
      s.paddingLeft = 0; s.paddingRight = 0; s.paddingTop = 0; s.paddingBottom = 0;
    }
  };
}

function roundRectPath(ctx, x, y, w, h, r) {
  ctx.beginPath();
  ctx.moveTo(x + r, y);
  ctx.lineTo(x + w - r, y); ctx.arcTo(x + w, y, x + w, y + r, r);
  ctx.lineTo(x + w, y + h - r); ctx.arcTo(x + w, y + h, x + w - r, y + h, r);
  ctx.lineTo(x + r, y + h); ctx.arcTo(x, y + h, x, y + h - r, r);
  ctx.lineTo(x, y + r); ctx.arcTo(x, y, x + r, y, r);
  ctx.closePath();
}

// frame, titles, period box and FAP legend
function decorPlugin(d) {
  return {
    id: 'decor',
    afterDraw: function (chart) {
      var ctx = chart.ctx, a = chart.chartArea;
      ctx.save();
      ctx.setLineDash([]);
      ctx.strokeStyle = '#222';
      ctx.lineWidth = 1.3;
      ctx.strokeRect(a.left + 0.5, a.top + 0.5, a.right - a.left - 1, a.bottom - a.top - 1);
      ctx.fillStyle = '#000';
      if (d.title) {
        ctx.font = '31px ' + FONT;
        ctx.textAlign = 'center';
        ctx.textBaseline = 'alphabetic';
        ctx.fillText(d.title, (a.left + a.right) / 2, a.top - 9);
      }
      if (d.period) {
        ctx.font = '20.5px ' + FONT;
        var tw = ctx.measureText(d.period).width;
        var cx = a.left + d.periodX * (a.right - a.left);
        var cy = a.top + 0.924 * (a.bottom - a.top);
        var bw = tw + 15, bh = 33;
        roundRectPath(ctx, cx - bw / 2, cy - bh / 2, bw, bh, 6);
        ctx.fillStyle = '#fff'; ctx.fill();
        ctx.strokeStyle = '#000'; ctx.lineWidth = 1.3; ctx.stroke();
        ctx.fillStyle = '#000';
        ctx.textAlign = 'center';
        ctx.textBaseline = 'alphabetic';
        ctx.fillText(d.period, cx, cy + 7.3);
      }
      if (d.legend) {
        var L = d.legend;
        var bx = a.right - L.right - L.w, by = a.top + L.top;
        roundRectPath(ctx, bx + 0.5, by + 0.5, L.w, L.h, 4);
        ctx.fillStyle = 'rgba(255,255,255,0.8)'; ctx.fill();
        ctx.strokeStyle = '#cccccc'; ctx.lineWidth = 1; ctx.stroke();
        ctx.font = L.size + 'px ' + FONT;
        ctx.textAlign = 'left';
        ctx.textBaseline = 'alphabetic';
        for (var i = 0; i < fapLabels.length; i++) {
          var yy = by + L.row0 + i * L.gap;
          ctx.beginPath();
          ctx.setLineDash(fapDash[i]);
          ctx.lineWidth = fapWidth;
          ctx.strokeStyle = '#000';
          ctx.moveTo(bx + L.s0, yy); ctx.lineTo(bx + L.s1, yy);
          ctx.stroke();
          ctx.setLineDash([]);
          ctx.fillStyle = '#000';
          ctx.fillText(fapLabels[i], bx + L.tx, yy + 0.36 * L.size);
        }
      }
      ctx.restore();
    }
  };
}

function twoCycles(phases, values) {
  var pts = [], n = Math.min(phases.length, values.length), i;
  for (i = 0; i < n; i++) pts.push({ x: phases[i], y: values[i] });
  for (i = 0; i < n; i++) pts.push({ x: phases[i] + 1, y: values[i] });
  return pts;
}

function baseOptions(xs, ys) {
  return {
    responsive: false, animation: false, devicePixelRatio: 1, events: [],
    layout: { padding: { left: 0, top: padTop, right: padRight, bottom: 0 }, autoPadding: false },
    plugins: { legend: { display: false }, tooltip: { enabled: false }, title: { display: false } },
    scales: { x: makeScale(xs), y: makeScale(ys) }
  };
}

// ---------------- top row: TESS light curves ----------------
var tess = [
  { grey: [greyPhaseA, greyMagA], bin: [binPhaseA, binMagA], min: 17.8, max: 18.8, ticks: magTicksA, dec: 1, tp: 17, px: 0.80 },
  { grey: [greyPhaseB, greyMagB], bin: [binPhaseB, binMagB], min: 18.0, max: 19.5, ticks: magTicksB, dec: 1, tp: 17, px: 0.705 },
  { grey: [greyPhaseC, greyMagC], bin: [binPhaseC, binMagC], min: 18.0, max: 20.0, ticks: magTicksC, dec: 2, tp: 5, px: 0.613 }
];
tess.forEach(function (p, col) {
  var opts = baseOptions(
    { position: 'bottom', min: -0.1, max: 2.1, ticks: phaseTicks, format: fmt(1), title: 'Phase', titlePad: 8 },
    { position: 'left', min: p.min, max: p.max, reverse: true, ticks: p.ticks, format: fmt(p.dec), title: 'TESS Magnitude', titlePad: p.tp }
  );
  new Chart(addCanvas(0, col), {
    type: 'scatter',
    data: { datasets: [
      { data: twoCycles(p.bin[0], p.bin[1]), backgroundColor: '#ff0000', borderWidth: 0, pointRadius: 6.3, order: 1 },
      { data: twoCycles(p.grey[0], p.grey[1]), backgroundColor: '#808080', borderWidth: 0, pointRadius: 2.5, order: 2 }
    ] },
    options: opts,
    plugins: [decorPlugin({ title: objectNames[col], period: periodLabels[col], periodX: p.px })]
  });
});

// ---------------- middle row: periodograms ----------------
var ls = [
  { power: powerA, pf: peakFreqA, pp: peakPowerA, fap: fapA, max: 0.025, ticks: powerTicksA, dec: 3, tp: 6,
    legend: { right: 8.3, top: 8, w: 165, h: 80, row0: 14.7, gap: 24.5, s0: 6.6, s1: 41, tx: 55, size: 16.5 } },
  { power: powerB, pf: peakFreqB, pp: peakPowerB, fap: fapB, max: 0.06, ticks: powerTicksBC, dec: 2, tp: 18,
    legend: { right: 8.3, top: 8, w: 165, h: 80, row0: 14.7, gap: 24.5, s0: 6.6, s1: 41, tx: 55, size: 16.5 } },
  { power: powerC, pf: peakFreqC, pp: peakPowerC, fap: fapC, max: 0.06, ticks: powerTicksBC, dec: 2, tp: 17,
    legend: { right: 10, top: 9, w: 177, h: 86, row0: 15, gap: 27, s0: 7.3, s1: 44, tx: 59.6, size: 17.7 } }
];
ls.forEach(function (p, col) {
  var xMin = -1.2, xMax = 25.2;
  var opts = baseOptions(
    { position: 'bottom', min: xMin, max: xMax, ticks: freqTicks, format: fmt(0), title: 'Frequency (c/d)', titlePad: 10.5 },
    { position: 'left', min: 0, max: p.max, ticks: p.ticks, format: fmt(p.dec), title: 'LS Power', titlePad: p.tp }
  );
  var curve = p.power.map(function (v, i) { return { x: freqStart[col] + i * freqStep, y: v }; });
  var peaks = p.pf.map(function (f, i) { return { x: f, y: p.pp[i] }; });
  var ds = [
    { data: peaks, backgroundColor: '#ffa500', borderWidth: 0, pointRadius: 4.3, order: 1 }
  ];
  p.fap.forEach(function (level, i) {
    ds.push({ data: [{ x: xMin, y: level }, { x: xMax, y: level }], showLine: true, borderColor: '#000',
              borderWidth: fapWidth, borderDash: fapDash[i], pointRadius: 0, fill: false, order: 2 });
  });
  ds.push({ data: curve, showLine: true, borderColor: '#1f77b4', borderWidth: 1.8, pointRadius: 0, fill: false, order: 3 });
  new Chart(addCanvas(1, col), {
    type: 'scatter',
    data: { datasets: ds },
    options: opts,
    plugins: [decorPlugin({ legend: p.legend })]
  });
});

// ---------------- bottom row: ZTF light curves ----------------
var ztf = [
  { ph: ztfPhaseA, mg: ztfMagA, xMin: -0.098, xMax: 2.1 },
  { ph: ztfPhaseB, mg: ztfMagB, xMin: -0.093, xMax: 2.098 },
  { ph: ztfPhaseC, mg: ztfMagC, xMin: -0.066, xMax: 2.089 }
];
ztf.forEach(function (p, col) {
  var opts = baseOptions(
    { position: 'bottom', min: p.xMin, max: p.xMax, ticks: phaseTicks, format: fmt(1), title: 'Phase', titlePad: 10 },
    { position: 'left', min: -0.4, max: 0.4, reverse: true, ticks: relTicks, format: fmtMinus(1), title: 'Relative Magnitude (ZTF)', titlePad: 15 }
  );
  new Chart(addCanvas(2, col), {
    type: 'scatter',
    data: { datasets: [
      { data: twoCycles(p.ph, p.mg), backgroundColor: '#000', borderWidth: 0, pointRadius: 3.7 }
    ] },
    options: opts,
    plugins: [decorPlugin({})]
  });
});
</script>
</body>
</html>
